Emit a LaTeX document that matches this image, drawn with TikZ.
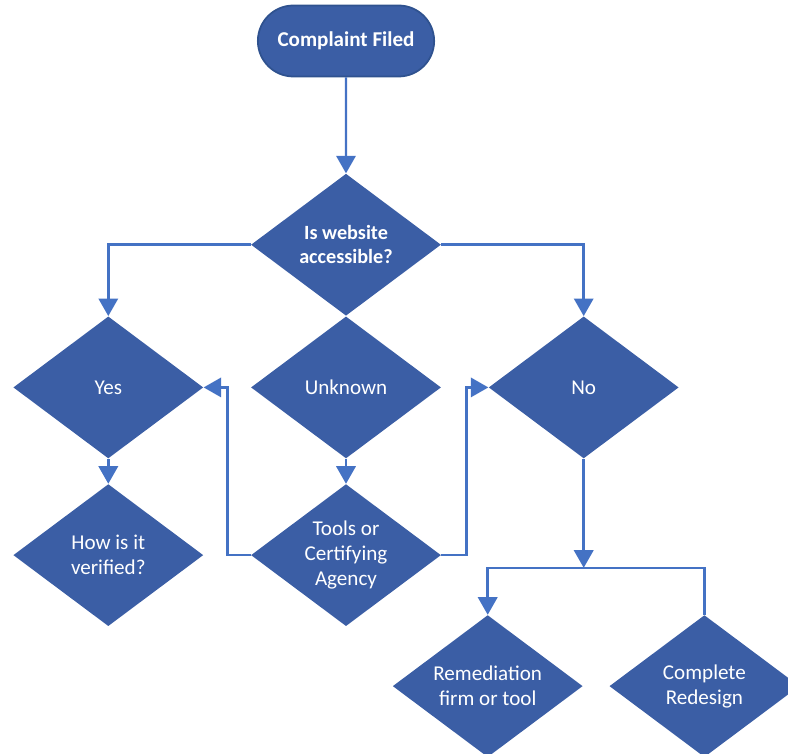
\documentclass[tikz,border=0pt]{standalone}
\usepackage{fontspec}
\setmainfont{Carlito}
\usepackage{tikz}
\usetikzlibrary{shapes.geometric,shapes.misc,arrows.meta,positioning}
\definecolor{azulfundo}{RGB}{59,94,165}
\definecolor{azulborda}{RGB}{47,82,143}
\definecolor{azullinha}{RGB}{68,114,196}

\begin{document}
\begin{tikzpicture}[
	font=\fontsize{12}{14.2}\selectfont,
	>={Triangle[width=11pt,length=10pt]},
	inicio/.style={rounded rectangle, draw=azulborda, fill=azulfundo, line width=1pt, text=white, minimum width=3.76cm, minimum height=1.42cm, font=\fontsize{12}{14}\selectfont\bfseries},
	dec/.style={diamond, fill=azulfundo, text=white, minimum width=3.8cm, minimum height=2.84cm, inner sep=-12pt, align=center},
	linha/.style={line width=1.4pt, azullinha},
	seta/.style={->, line width=1.4pt, azullinha},
]
\useasboundingbox (0,0) rectangle (15.76,-15.08);
\node[inicio] (queixa) at (6.92,-0.82) {Complaint Filed};
\node[dec]    (acess) [below=1.92cm of queixa, font=\fontsize{11.5}{13.8}\selectfont\bfseries] {Is website\\accessible?};
\node[dec]    (desc) [below=0cm of acess] {Unknown};
\node[dec]    (sim) [left=0.94cm of desc] {Yes};
\node[dec]    (nao) [right=0.94cm of desc] {No};
\node[dec]    (verif) [below=0.5cm of sim] {How is it\\verified?};
\node[dec]    (ferr) [below=0.5cm of desc] {Tools or\\Certifying\\Agency};
\node[dec]    (remed) [below=3.12cm of nao, xshift=-1.92cm] {Remediation\\firm or tool};
\node[dec]    (redes) [right=0.52cm of remed] {Complete\\Redesign};
\coordinate   (junta) at ([yshift=-2.18cm]nao.south);

\draw[seta] (queixa) -- (acess);
\draw[seta] (acess.west) -| (sim.north);
\draw[seta] (acess.east) -| (nao.north);
\draw[seta] (sim) -- (verif);
\draw[seta] (desc) -- (ferr);
\draw[seta] (ferr.west) -- ++(-0.46,0) |- (sim.east);
\draw[seta] (ferr.east) -- ++(0.5,0) |- (nao.west);
\draw[seta] (nao.south) -- (junta);
\draw[seta] (junta) -| (remed.north);
\draw[linha] (junta) -| (redes.north);
\end{tikzpicture}
\end{document}
